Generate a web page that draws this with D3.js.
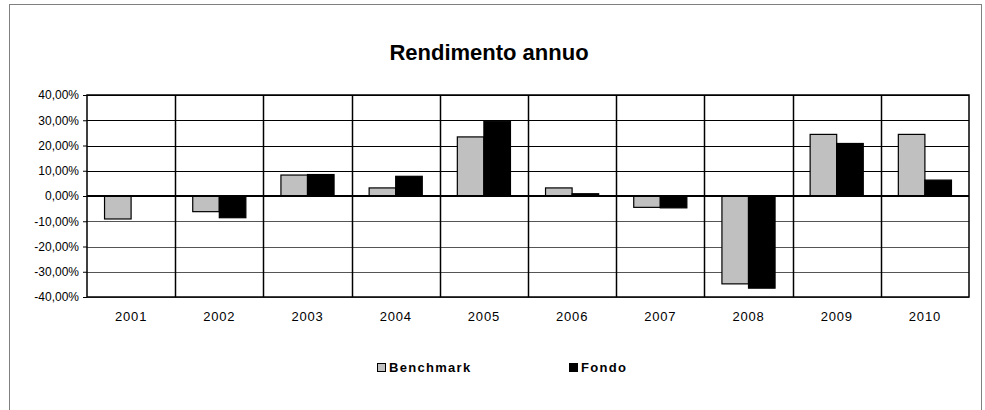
<!DOCTYPE html>
<html>
<head>
<meta charset="utf-8">
<script src="https://cdn.jsdelivr.net/npm/d3@7"></script>
<style>
  body { margin: 0; background: #fff; }
  text { font-family: "Liberation Sans", Arial, sans-serif; }
</style>
</head>
<body>
<script>
// dati
var anni = ["2001", "2002", "2003", "2004", "2005", "2006", "2007", "2008", "2009", "2010"];
var benchmark = [-9.1, -6.2, 8.3, 3.2, 23.4, 3.2, -4.5, -34.8, 24.4, 24.4];
var fondo = [null, -8.6, 8.5, 7.8, 29.6, 0.9, -4.7, -36.5, 20.8, 6.3];
var serie = ["Benchmark", "Fondo"];
var colori = ["#c0c0c0", "#000000"];
var yTicks = [40, 30, 20, 10, 0, -10, -20, -30, -40];

var W = 985, H = 410;
var svg = d3.select("body").append("svg")
  .attr("width", W)
  .attr("height", H);

// bordo esterno
svg.append("rect")
  .attr("x", 9.5).attr("y", 4.5)
  .attr("width", 972).attr("height", 420)
  .attr("fill", "#fff")
  .attr("stroke", "#808080")
  .attr("stroke-width", 1);

// titolo
svg.append("text")
  .attr("x", 489).attr("y", 60)
  .attr("text-anchor", "middle")
  .style("font-size", "22px")
  .style("font-weight", "bold")
  .text("Rendimento annuo");

var pLeft = 87, pRight = 969, pTop = 95, pBottom = 297;

var x = d3.scaleBand().domain(anni).range([pLeft, pRight]);
var y = d3.scaleLinear().domain([-40, 40]).range([pBottom, pTop]);

var fmt = function (d) { return d3.format(".2f")(d).replace(".", ",").replace("−", "-") + "%"; };

var g = svg.append("g");

// griglia orizzontale
g.selectAll(".hgrid")
  .data(yTicks)
  .enter()
  .append("line")
  .attr("x1", pLeft).attr("x2", pRight)
  .attr("y1", d => Math.round(y(d)) + 0.5)
  .attr("y2", d => Math.round(y(d)) + 0.5)
  .attr("stroke", d => d < 0 ? "#555" : "#000")
  .attr("stroke-width", 1);

// griglia verticale
g.selectAll(".vgrid")
  .data(anni.slice(1))
  .enter()
  .append("line")
  .attr("x1", d => Math.round(x(d)) + 0.5)
  .attr("x2", d => Math.round(x(d)) + 0.5)
  .attr("y1", pTop).attr("y2", pBottom)
  .attr("stroke", "#000")
  .attr("stroke-width", 1.5);

// barre
var inner = d3.scaleBand().domain(serie).range([0, x.bandwidth()]).paddingOuter(0.66).paddingInner(0);
var valori = [benchmark, fondo];

serie.forEach(function (s, si) {
  g.selectAll(".bar" + si)
    .data(anni.map((a, i) => ({ anno: a, v: valori[si][i] })).filter(d => d.v !== null))
    .enter()
    .append("rect")
    .attr("x", d => x(d.anno) + inner(s))
    .attr("width", inner.bandwidth())
    .attr("y", d => y(Math.max(0, d.v)))
    .attr("height", d => Math.abs(y(d.v) - y(0)))
    .attr("fill", colori[si])
    .attr("stroke", "#000")
    .attr("stroke-width", 1.2);
});

// asse dello zero
g.append("line")
  .attr("x1", pLeft).attr("x2", pRight)
  .attr("y1", y(0)).attr("y2", y(0))
  .attr("stroke", "#000").attr("stroke-width", 2);

// bordo area
g.append("rect")
  .attr("x", pLeft).attr("y", pTop)
  .attr("width", pRight - pLeft).attr("height", pBottom - pTop)
  .attr("fill", "none")
  .attr("stroke", "#000")
  .attr("stroke-width", 1.5);

// asse y
var yAxis = d3.axisLeft(y).tickValues(yTicks).tickSize(4).tickFormat(fmt);
svg.append("g")
  .attr("transform", "translate(" + pLeft + ",0)")
  .call(yAxis)
  .call(a => a.select(".domain").remove())
  .call(a => a.selectAll("text").style("font-size", "12px").attr("fill", "#000").attr("dx", "-1"))
  .call(a => a.selectAll("line").attr("stroke", "#000"));

// asse x
var xAxis = d3.axisBottom(x).tickSize(0).tickPadding(15);
svg.append("g")
  .attr("transform", "translate(0," + pBottom + ")")
  .call(xAxis)
  .call(a => a.select(".domain").remove())
  .call(a => a.selectAll("text").style("font-size", "13px").style("letter-spacing", "0.8px").attr("fill", "#000"));

// legenda
var leg = svg.append("g");
var legX = [377, 569];
serie.forEach(function (s, i) {
  leg.append("rect")
    .attr("x", legX[i] + 0.5).attr("y", 363.5)
    .attr("width", 8).attr("height", 8)
    .attr("fill", colori[i])
    .attr("stroke", "#000").attr("stroke-width", 1);
  leg.append("text")
    .attr("x", legX[i] + 12).attr("y", 372)
    .style("font-size", "13px")
    .style("font-weight", "bold")
    .style("letter-spacing", "1.3px")
    .text(s);
});
</script>
</body>
</html>
